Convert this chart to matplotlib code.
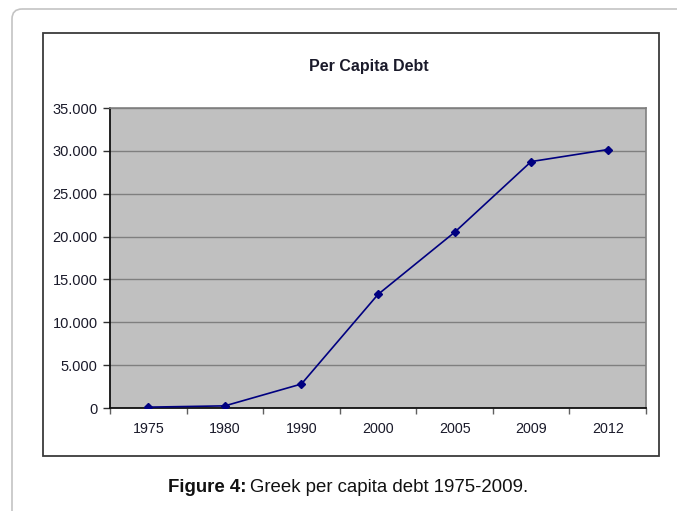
import matplotlib
matplotlib.use("Agg")
import matplotlib.pyplot as plt
from matplotlib.patches import Rectangle, FancyBboxPatch
from matplotlib.ticker import FuncFormatter, FixedLocator
from matplotlib.transforms import Affine2D

plt.rcParams['font.family'] = ['Liberation Sans', 'DejaVu Sans']

# Greek per capita debt (euros)
years = ["1975", "1980", "1990", "2000", "2005", "2009", "2012"]
debt = [100, 250, 2800, 13250, 20500, 28750, 30150]
y_ticks = [0, 5000, 10000, 15000, 20000, 25000, 30000, 35000]

W, H = 677, 511
fig = plt.figure(figsize=(W / 100, H / 100), dpi=100)
fig.patch.set_facecolor("white")

# pixel coordinates measured from the top-left corner of the figure
px = Affine2D().scale(1, -1).translate(0, H)

# outer rounded frame
outer = FancyBboxPatch((12, 9), 700, 520, boxstyle="round,pad=0,rounding_size=10",
                       transform=px, fill=False, edgecolor="#c4c4c4", linewidth=1.2,
                       clip_on=False)
fig.patches.append(outer)

# chart box
box = Rectangle((43, 33), 616, 423, transform=px, fill=False,
                edgecolor="#3a3a3a", linewidth=1.3, clip_on=False)
fig.patches.append(box)

# plotting area
left, right, top, bottom = 110, 646, 108, 408
ax = fig.add_axes([left / W, (H - bottom) / H, (right - left) / W, (bottom - top) / H])
ax.set_facecolor("#c0c0c0")

x = list(range(len(years)))
ax.plot(x, debt, color="#000080", linewidth=1.2, marker="D", markersize=4.5,
        markerfacecolor="#000080", markeredgecolor="#000080", zorder=3)

ax.set_xlim(-0.5, len(years) - 0.5)
ax.set_ylim(0, 35000)

ax.set_yticks(y_ticks)
ax.yaxis.set_major_formatter(FuncFormatter(lambda v, p: f"{int(v):,}".replace(",", ".")))
ax.grid(axis="y", color="#7f7f7f", linewidth=1.0)
ax.set_axisbelow(True)

ax.set_xticks(x)
ax.set_xticklabels(years)
ax.xaxis.set_minor_locator(FixedLocator([i - 0.5 for i in range(len(years) + 1)]))
ax.tick_params(axis="x", which="major", length=0, pad=10, labelsize=10.3, labelcolor="#1a1a2a")
ax.tick_params(axis="x", which="minor", length=4, color="#606060", width=1)
ax.tick_params(axis="y", length=5, width=1, color="#303030", pad=4, labelsize=10.5,
               labelcolor="#1a1a2a")

for s in ("top", "right"):
    ax.spines[s].set_color("#808080")
    ax.spines[s].set_linewidth(1.2)
for s in ("left", "bottom"):
    ax.spines[s].set_color("#101010")
    ax.spines[s].set_linewidth(1.3)

fig.text(368.5 / W, (H - 66) / H, "Per Capita Debt", ha="center", va="center",
         fontsize=11.5, fontweight="bold", color="#1a1a2a")

# caption: bold label followed by regular text
cap_bold = fig.text(168 / W, (H - 487) / H, "Figure 4:", ha="left", va="center",
                    fontsize=13.4, fontweight="bold", color="#111111")
fig.canvas.draw()
bb = cap_bold.get_window_extent()
fig.text((bb.x1 + 4) / W, (H - 487) / H, "Greek per capita debt 1975-2009.",
         ha="left", va="center", fontsize=13.4, color="#111111")

fig.savefig("out.png", dpi=100)
